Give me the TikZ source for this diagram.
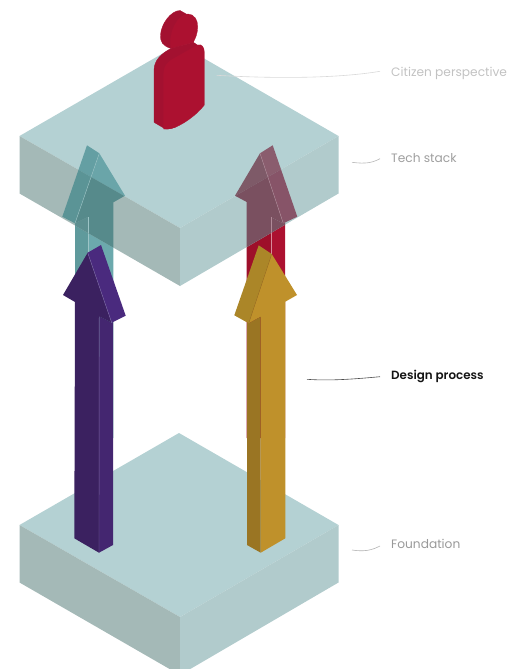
\documentclass[tikz,border=0pt]{standalone}
\usepackage{fontspec}
\setmainfont{Poppins}
\newfontfamily\medfont{Poppins SemiBold}
\definecolor{slabtop}{HTML}{B4D1D3}
\definecolor{slableft}{HTML}{A4B9B7}
\definecolor{slabright}{HTML}{B1CBCC}
\definecolor{redmain}{HTML}{AC1130}
\definecolor{reddark}{HTML}{9E0F2A}
\definecolor{persondark}{HTML}{A31130}
\definecolor{purplefront}{HTML}{3B2160}
\definecolor{purpleside}{HTML}{4A2A7E}
\definecolor{purplenarrow}{HTML}{442670}
\definecolor{goldfront}{HTML}{BF912B}
\definecolor{goldside}{HTML}{AB8628}
\definecolor{goldnarrow}{HTML}{9A7523}
\definecolor{tealA}{HTML}{649FA3}
\definecolor{tealB}{HTML}{6AA5A9}
\definecolor{tealC}{HTML}{5B9496}
\definecolor{tealE}{HTML}{568A8B}
\definecolor{tealF}{HTML}{5C8F90}
\definecolor{tealG}{HTML}{6CA9AD}
\definecolor{tealH}{HTML}{5F9A9C}
\definecolor{marA}{HTML}{8A5D6E}
\definecolor{marB}{HTML}{7E5A68}
\definecolor{marC}{HTML}{875468}
\definecolor{marD}{HTML}{7A5060}
\definecolor{lineteal}{HTML}{9CC4C6}
\definecolor{linemar}{HTML}{B08A98}
\definecolor{linered}{HTML}{D88A9A}
\tikzset{
  hair/.style={draw=#1,line width=0.4pt},
  leader/.style={draw=#1,line width=0.6pt},
  lbl/.style={anchor=base west,inner sep=0pt,font=\fontsize{12.2}{14}\selectfont},
  personpart/.style={fill=#1,draw=#1,line width=0.3pt},
}
% teal arrow: #1 side, #2 front, #3 narrow, #4 hairline
\newcommand\tealarrow[4]{%
  \fill[#3] (75,223.3) -- (88,217) -- (88,438) -- (75,438) -- cycle;
  \fill[#2] (99.3,153.3) -- (125,195.7) -- (113.4,202.3) -- (113.4,438) -- (88,438) -- (88,217) -- (75,223.3) -- cycle;
  \fill[#1] (87,145.3) -- (99.3,153.3) -- (75,223.3) -- (62.3,216.7) -- cycle;
  \draw[hair=#4] (99.3,153.3) -- (75,223.3);
  \draw[hair=#4] (88,217) -- (88,300);
}
% maroon arrow: #1 side, #2 front, #3 narrow, #4 hairline
\newcommand\redarrow[4]{%
  \fill[#3] (271.3,217.3) -- (283.3,223.3) -- (285,222.5) -- (285,438) -- (271.3,438) -- cycle;
  \fill[#2] (260,153.3) -- (283.3,223.3) -- (271.3,217.3) -- (271.3,438) -- (246.7,438) -- (246.7,202) -- (235,195.7) -- cycle;
  \fill[#1] (272.7,145.3) -- (260,153.3) -- (283.3,223.3) -- (297.3,216.7) -- cycle;
  \draw[hair=#4] (260,153.3) -- (283.3,223.3);
  \draw[hair=#4] (271.3,217.3) -- (271.3,300);
}
\newcommand\slabfaces[1]{%
  \fill[slabtop] (179,#1-92) -- (338.5,#1) -- (180,#1+92) -- (19.5,#1) -- cycle;
  \fill[slableft] (19.5,#1) -- (180,#1+92) -- (180,#1+150) -- (19.5,#1+57.5) -- cycle;
  \fill[slabright] (180,#1+92) -- (338.5,#1) -- (338.5,#1+57.5) -- (180,#1+150) -- cycle;
}
\begin{document}
\begin{tikzpicture}[x=1pt,y=-1pt]
\useasboundingbox (0,0) rectangle (518,669);
\begin{scope}
\clip (0,0) rectangle (518,669);
% foundation slab
\slabfaces{525}
% arrows behind the tech slab, in their plain colours
\tealarrow{tealA}{tealG}{tealH}{lineteal}
\redarrow{marA}{reddark}{redmain}{linered}
% tech slab
\slabfaces{136}
% parts of the arrows seen through the tech slab
\begin{scope}
  \clip (179,44) -- (338.5,136) -- (180,228) -- (19.5,136) -- cycle;
  \tealarrow{tealA}{tealB}{tealB}{lineteal}
  \redarrow{marA}{marB}{marB}{linemar}
\end{scope}
\begin{scope}
  \clip (19.5,136) -- (180,228) -- (180,286) -- (19.5,193.5) -- cycle;
  \tealarrow{tealC}{tealE}{tealF}{lineteal}
\end{scope}
\begin{scope}
  \clip (180,228) -- (338.5,136) -- (338.5,193.5) -- (180,286) -- cycle;
  \redarrow{marC}{marD}{marD}{linemar}
\end{scope}
% person: body side and neck backing
\fill[personpart=persondark] (171,48.5) .. controls (162,53) and (154,60) .. (154,70)
  -- (154,122.3) -- (164.5,128.5) .. controls (166,129.5) and (170,129) .. (176,127)
  -- (199,46) -- (193.3,42.3) -- cycle;
% person: head
\fill[personpart=persondark] (171,48.5) .. controls (163,46) and (160,42) .. (160.5,35)
  .. controls (161,24) and (171,10.5) .. (180,10.5)
  -- (196,19.5) -- (193.3,42.3) -- cycle;
\fill[personpart=redmain] (171,48) .. controls (168,34) and (177,14.5) .. (188,14)
  .. controls (194,14) and (198,20) .. (197.7,27)
  .. controls (197.5,34) and (195.5,38) .. (193.3,42.3)
  -- cycle;
% person: body front
\fill[personpart=redmain] (163.7,129) -- (163.7,74) .. controls (163.7,62) and (172,60) .. (180,55)
  -- (198,45) .. controls (202,43.5) and (204.3,48) .. (204.3,52)
  -- (204.3,105) .. controls (196,116) and (178,128.5) .. (168,129) -- cycle;
% front arrows
\fill[purplenarrow] (99.3,316.5) -- (111.7,322.7) -- (113,322) -- (113,545) -- (99,552.7) -- cycle;
\fill[purplefront] (63,295) -- (87.7,252.7) -- (111.7,322.7) -- (99.3,316.5) -- (99,552.7) -- (74.3,538.3) -- (75,302) -- cycle;
\fill[purpleside] (87.7,252.7) -- (101,245) -- (125.7,315.7) -- (111.7,322.7) -- cycle;
\draw[hair=purpleside!70!white] (87.7,252.7) -- (111.7,322.7);
\draw[hair=purpleside!70!white] (99.2,316.5) -- (99,552);
\fill[goldfront] (271.7,254) -- (297,295) -- (285.3,301.7) -- (285.3,538.3) -- (260.7,552.7) -- (260.7,316.7) -- (248.7,323.3) -- cycle;
\fill[goldnarrow] (248.7,323.3) -- (260.7,316.7) -- (260.7,552.7) -- (247,545) -- (247,322.5) -- cycle;
\fill[goldside] (258.7,245.3) -- (271.7,254) -- (248.7,323.3) -- (234.3,315.3) -- cycle;
\draw[hair=goldnarrow] (271.7,254) -- (248.7,323.3);
\end{scope}
% leaders and labels
\node[lbl,text=black!24] (citizen) at (391,76) {Citizen perspective};
\node[lbl,text=black!38] (tech) at (391,162.5) {Tech stack};
\node[lbl,text=black!92,font=\fontsize{11.9}{14}\medfont] (design) at (391,379) {Design process};
\node[lbl,text=black!40] (found) at (391,548.5) {Foundation};
\coordinate (c1) at (216.7,75.3);
\coordinate (c2) at (380,71.3);
\coordinate (t1) at (352,162.3);
\coordinate (t2) at (380,158.7);
\coordinate (d1) at (307,379.3);
\coordinate (d2) at (380,376.7);
\coordinate (f1) at (352,550);
\coordinate (f2) at (380,546);
\draw[leader=black!15] (c1) .. controls (280,79) and (340,78) .. (c2);
\draw[leader=black!28] (t1) .. controls (365,164) and (372,163) .. (t2);
\draw[leader=black!70] (d1) .. controls (330,381) and (355,379) .. (d2);
\draw[leader=black!30] (f1) .. controls (365,552) and (372,550) .. (f2);
\end{tikzpicture}
\end{document}
